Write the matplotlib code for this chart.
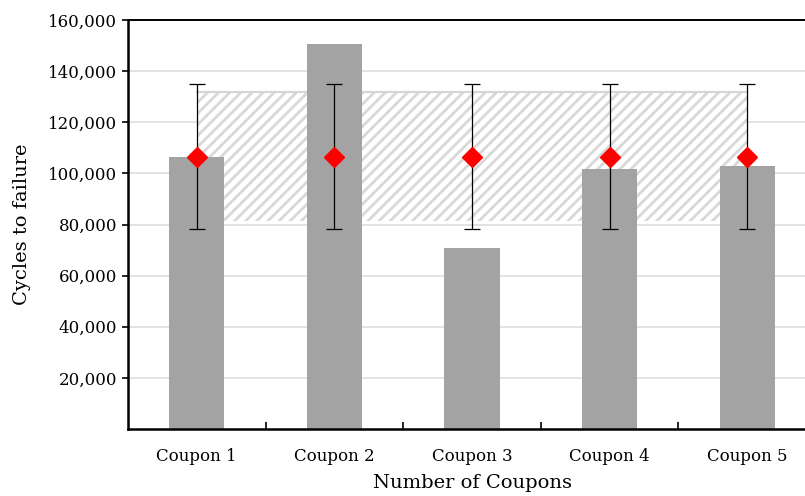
import matplotlib.pyplot as plt
import numpy as np
from matplotlib.ticker import FuncFormatter, FixedLocator

plt.rcParams['font.family'] = ['DejaVu Serif']
plt.rcParams['hatch.linewidth'] = 2.0

# cycles to failure for each coupon
coupons = ['Coupon 1', 'Coupon 2', 'Coupon 3', 'Coupon 4', 'Coupon 5']
cycles = [106500, 150700, 70800, 101800, 102900]

# mean life with its error bar, and the scatter band
mean_life = 106600
err_life = 28500
band_low = 81300
band_high = 132000

x = np.arange(len(coupons))

fig = plt.figure(figsize=(8.05, 4.96), dpi=100)
ax = fig.add_axes([128 / 805, 1 - 429 / 496, 688 / 805, 409 / 496])

ax.set_ylim(0, 160000)
ax.set_xlim(-0.5, 4.5)

# grid lines
for yv in range(20000, 160001, 20000):
    ax.axhline(yv, color='#dedede', lw=1.2, zorder=0)

# hatched band between first and last coupon
ax.fill_between([x[0], x[-1]], band_low, band_high, facecolor='white',
                hatch='///', edgecolor='#d8d8d8', linewidth=0, zorder=1)
ax.plot([x[0], x[-1]], [band_high, band_high], color='#d6d6d6', lw=1.6, zorder=1.5)

ax.bar(x, cycles, width=0.4, color='#a3a3a3', zorder=2)

ax.errorbar(x, [mean_life] * len(x), yerr=err_life, fmt='D', color='red',
            markersize=10.5, ecolor='black', elinewidth=0.9, capsize=6,
            capthick=0.9, zorder=3)

ax.yaxis.set_major_locator(FixedLocator(range(20000, 160001, 20000)))
ax.yaxis.set_major_formatter(FuncFormatter(lambda v, p: f'{int(v):,}'))
ax.tick_params(axis='y', labelsize=12, length=4, width=1.2, direction='out', pad=4)

ax.set_xticks(x)
ax.set_xticklabels(coupons)
ax.tick_params(axis='x', which='major', length=0, labelsize=12, pad=14)
ax.set_xticks(x[:-1] + 0.5, minor=True)
ax.tick_params(axis='x', which='minor', length=5, width=1.2, direction='in')

ax.set_ylabel('Cycles to failure', fontsize=14, labelpad=12)
ax.set_xlabel('Number of Coupons', fontsize=14, labelpad=6)

for side in ['left', 'bottom']:
    ax.spines[side].set_linewidth(1.8)
ax.spines['top'].set_linewidth(1.4)
ax.spines['right'].set_visible(False)

fig.savefig('out.png', dpi=100)
